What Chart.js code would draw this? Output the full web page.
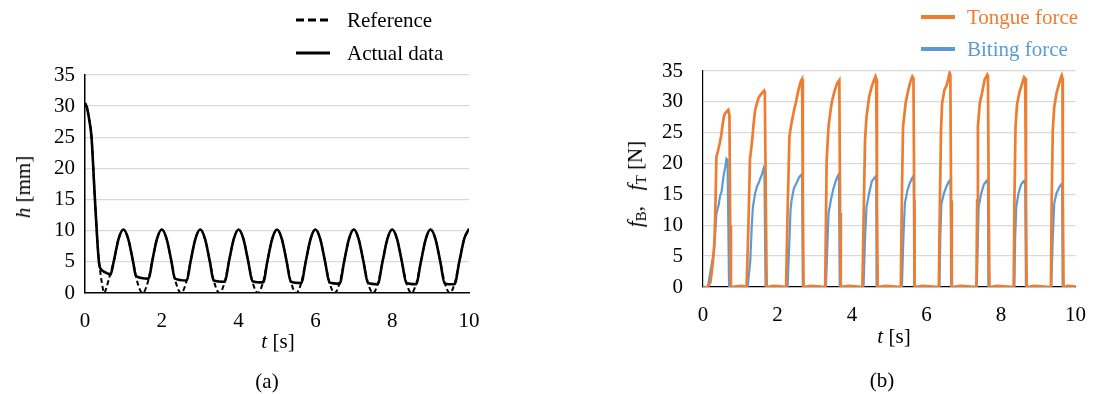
<!DOCTYPE html>
<html><head><meta charset="utf-8">
<script src="https://cdn.jsdelivr.net/npm/chart.js@4.4.1/dist/chart.umd.min.js"></script>
<style>
html,body{margin:0;padding:0;background:#fff;width:1102px;height:394px;overflow:hidden;}
body{position:relative;font-family:"Liberation Serif","Times New Roman",serif;color:#000;}
canvas{position:absolute;top:0;}
.t{position:absolute;font-size:21px;line-height:24px;white-space:nowrap;}
.c{transform:translate(-50%,-50%);}
.r{transform:translate(-50%,-50%) rotate(-90deg);}
sub{font-size:15px;vertical-align:-4px;font-style:normal;}
</style></head><body>
<canvas id="ca" width="551" height="394" style="left:0"></canvas>
<canvas id="cb" width="551" height="394" style="left:551px"></canvas>

<!-- panel (a) texts -->
<svg style="position:absolute;left:296px;top:18px" width="34" height="4"><line x1="0" y1="2" x2="34" y2="2" stroke="#000" stroke-width="3" stroke-dasharray="8 4"/></svg>
<div class="t" style="left:347px;top:8px">Reference</div>
<svg style="position:absolute;left:296px;top:51px" width="34" height="4"><line x1="0" y1="2" x2="34" y2="2" stroke="#000" stroke-width="3"/></svg>
<div class="t" style="left:347px;top:41px">Actual data</div>
<div class="t r" style="left:23px;top:187px"><i>h</i> [mm]</div>
<div class="t c" style="left:278px;top:341px"><i>t</i> [s]</div>
<div class="t c" style="left:267px;top:381px">(a)</div>

<!-- panel (b) texts -->
<svg style="position:absolute;left:921px;top:15px" width="34" height="4"><line x1="0" y1="2" x2="34" y2="2" stroke="#ED7D31" stroke-width="4"/></svg>
<div class="t" style="left:967px;top:5px;color:#ED7D31">Tongue force</div>
<svg style="position:absolute;left:921px;top:47px" width="34" height="4"><line x1="0" y1="2" x2="34" y2="2" stroke="#5B9BD5" stroke-width="4"/></svg>
<div class="t" style="left:967px;top:37px;color:#5B9BD5">Biting force</div>
<div class="t r" style="left:638px;top:184px"><i>f</i><sub>B</sub>,&nbsp;&nbsp; <i>f</i><sub>T</sub> [N]</div>
<div class="t c" style="left:894px;top:336px"><i>t</i> [s]</div>
<div class="t c" style="left:882px;top:380px">(b)</div>

<script>
// ---------- Panel (a): gap height h [mm] ----------
const tRef = [0,0.05,0.1,0.17,0.25,0.33,0.38,0.44,0.5,0.57,0.65,0.75,0.875,
 1,1.125,1.25,1.375,1.5,1.625,1.75,1.875,
 2,2.125,2.25,2.375,2.5,2.625,2.75,2.875,
 3,3.125,3.25,3.375,3.5,3.625,3.75,3.875,
 4,4.125,4.25,4.375,4.5,4.625,4.75,4.875,
 5,5.125,5.25,5.375,5.5,5.625,5.75,5.875,
 6,6.125,6.25,6.375,6.5,6.625,6.75,6.875,
 7,7.125,7.25,7.375,7.5,7.625,7.75,7.875,
 8,8.125,8.25,8.375,8.5,8.625,8.75,8.875,
 9,9.125,9.25,9.375,9.5,9.625,9.75,9.875,10];
const hRef = [30.5,29.8,28.2,25.0,16.0,7.5,4.3,1.6,0,1.1,2.9,5.1,8.7,
 10.2,8.7,5.1,1.5,0,1.5,5.1,8.7,
 10.2,8.7,5.1,1.5,0,1.5,5.1,8.7,
 10.2,8.7,5.1,1.5,0,1.5,5.1,8.7,
 10.2,8.7,5.1,1.5,0,1.5,5.1,8.7,
 10.2,8.7,5.1,1.5,0,1.5,5.1,8.7,
 10.2,8.7,5.1,1.5,0,1.5,5.1,8.7,
 10.2,8.7,5.1,1.5,0,1.5,5.1,8.7,
 10.2,8.7,5.1,1.5,0,1.5,5.1,8.7,
 10.2,8.7,5.1,1.5,0,1.5,5.1,8.7,10.3];

const tAct = [0,0.05,0.1,0.17,0.25,0.33,0.37,0.42,0.5,0.6,0.66,0.75,0.875,
 1,1.125,1.25,1.33,1.66,1.75,1.875,
 2,2.125,2.25,2.34,2.65,2.75,2.875,
 3,3.125,3.25,3.35,3.64,3.75,3.875,
 4,4.125,4.25,4.36,4.64,4.75,4.875,
 5,5.125,5.25,5.36,5.63,5.75,5.875,
 6,6.125,6.25,6.37,6.63,6.75,6.875,
 7,7.125,7.25,7.37,7.62,7.75,7.875,
 8,8.125,8.25,8.37,8.62,8.75,8.875,
 9,9.125,9.25,9.37,9.62,9.75,9.875,10];
const hAct = [30.5,29.8,28.2,25.0,16.0,7.5,4.6,3.8,3.4,3.1,2.9,5.1,8.7,
 10.2,8.7,5.1,2.7,2.3,5.1,8.7,
 10.2,8.7,5.1,2.3,2.0,5.1,8.7,
 10.2,8.7,5.1,2.0,1.8,5.1,8.7,
 10.2,8.7,5.1,1.9,1.7,5.1,8.7,
 10.2,8.7,5.1,1.8,1.6,5.1,8.7,
 10.2,8.7,5.1,1.7,1.5,5.1,8.7,
 10.2,8.7,5.1,1.6,1.4,5.1,8.7,
 10.2,8.7,5.1,1.6,1.4,5.1,8.7,
 10.2,8.7,5.1,1.5,1.4,5.1,8.7,10.3];

// ---------- Panel (b): forces [N] ----------
const tTongue = [0,0.13,0.2,0.23,0.27,0.31,0.34,0.36,0.40,0.45,0.49,0.53,0.56,0.59,0.63,0.68,0.71,0.73,0.75,
 0.9,1.05,1.17,1.22,1.26,1.32,1.36,1.40,1.45,1.49,1.54,1.58,1.64,1.66,1.69,1.71,
 1.9,2.1,2.23,2.27,2.32,2.36,2.41,2.45,2.49,2.53,2.56,2.60,2.63,2.66,2.68,2.70,
 2.9,3.1,3.28,3.32,3.37,3.42,3.46,3.50,3.54,3.60,3.66,3.68,3.70,
 3.9,4.1,4.28,4.32,4.35,4.39,4.46,4.53,4.59,4.63,4.65,4.67,4.69,
 4.9,5.1,5.31,5.34,5.37,5.44,5.51,5.57,5.62,5.65,5.67,5.68,
 5.9,6.1,6.33,6.36,6.39,6.42,6.48,6.54,6.58,6.62,6.64,6.66,6.68,
 6.9,7.1,7.34,7.36,7.38,7.43,7.49,7.56,7.63,7.65,7.67,7.69,
 7.9,8.1,8.34,8.36,8.39,8.43,8.50,8.57,8.62,8.65,8.67,8.69,
 8.9,9.1,9.34,9.36,9.39,9.43,9.49,9.56,9.61,9.63,9.65,9.66,9.68,
 9.8,10];
const fTongue = [0,0,0.8,2.2,4.3,7.6,15,21.1,22.0,23.3,24.6,26.5,27.6,28.1,28.4,28.7,27.8,10,0,
 0.1,0.2,0,10,20.6,23.8,26.5,28.7,29.8,30.6,31.1,31.4,31.8,31.3,12,0,
 0.2,0.1,0,12,24.4,26.0,27.6,28.8,29.8,31.0,31.9,32.8,33.4,33.7,15,0,
 0.2,0.1,0,20.6,26.0,28.4,30.0,31.0,31.9,33.0,33.5,12,0,
 0.2,0.1,0,14,23.8,27.6,30.8,32.5,33.5,34.1,33.7,14,0,
 0.2,0.1,0,15,26.0,29.8,31.9,33.3,34.1,33.8,14,0,
 0.2,0.1,0,14,25.5,29.8,31.9,32.7,33.6,34.7,34.4,14,0,
 0.2,0.1,0,14,26.0,29.8,31.4,33.6,34.4,34.1,14,0,
 0.2,0.1,0,14,26.0,29.6,31.7,33.0,34.0,33.8,14,0,
 0.2,0.1,0,14,25.4,29.2,31.4,33.0,34.0,34.3,33.8,14,0,
 0.2,0.1];

const tBite = [0,0.13,0.2,0.25,0.29,0.33,0.36,0.38,0.42,0.46,0.50,0.53,0.56,0.60,0.63,0.66,0.68,0.70,
 1.20,1.27,1.31,1.34,1.40,1.45,1.49,1.54,1.58,1.63,1.65,1.67,1.68,
 2.27,2.31,2.35,2.38,2.44,2.49,2.53,2.59,2.64,2.66,2.68,
 3.30,3.34,3.37,3.43,3.50,3.57,3.63,3.65,3.67,
 4.31,4.35,4.39,4.46,4.53,4.59,4.63,4.65,4.66,
 5.34,5.38,5.42,5.49,5.55,5.61,5.64,5.66,5.67,
 6.35,6.37,6.40,6.47,6.53,6.60,6.63,6.65,6.66,
 7.35,7.38,7.40,7.47,7.54,7.60,7.63,7.65,7.66,
 8.36,8.38,8.41,8.47,8.54,8.60,8.63,8.65,8.67,
 9.35,9.39,9.43,9.49,9.55,9.61,9.64,9.65,9.66,10];
const fBite = [0,0,2.5,4.3,5.5,9,11.9,12.4,13.3,14.8,15.5,17.0,18.3,19.5,20.8,20.6,10,0,
 0,4.3,10,13.0,15.2,16.3,16.8,17.6,18.2,19.3,19.0,5,0,
 0,6,12.5,14.1,16.0,16.6,17.1,17.9,18.2,17.5,0,
 0,7,11.9,14.0,15.9,17.3,18.1,17.6,0,
 0,8,13.0,15.2,17.1,17.6,17.9,17.2,0,
 0,8,13.6,15.7,16.8,17.6,17.9,17.0,0,
 0,8,13.5,15.2,16.2,17.1,17.3,16.5,0,
 0,8,13.0,15.2,16.6,17.1,17.3,16.5,0,
 0,8,13.0,15.2,16.6,17.1,17.2,16.4,0,
 0,8,13.6,15.2,16.0,16.6,16.8,16.0,0,0];

const xTicksStep = 2, yTicksStep = 5, xMax = 10, yMax = 35;

const pts = (ts, vs) => ts.map((t, i) => ({x: t, y: vs[i]}));
const tickFont = {family: '"Liberation Serif","Times New Roman",serif', size: 21};

function makeChart(id, datasets, pad, yPad, axisW) {
  return new Chart(document.getElementById(id), {
    type: 'line',
    data: {datasets},
    options: {
      responsive: false, animation: false, devicePixelRatio: 1,
      layout: {padding: pad},
      plugins: {legend: {display: false}, tooltip: {enabled: false}},
      elements: {point: {radius: 0}},
      scales: {
        x: {type: 'linear', min: 0, max: xMax,
            ticks: {stepSize: xTicksStep, font: tickFont, color: '#000', padding: 16, maxRotation: 0},
            grid: {display: false, drawTicks: false},
            border: {display: true, color: '#000', width: axisW},
            afterFit: s => { s.height = 40; }},
        y: {min: 0, max: yMax,
            ticks: {stepSize: yTicksStep, font: tickFont, color: '#000', padding: yPad},
            grid: {drawTicks: false, lineWidth: 1.3,
                   color: c => (c.tick && c.tick.value === 0) ? 'rgba(0,0,0,0)' : '#d9d9d9'},
            border: {display: true, color: '#000', width: axisW},
            afterFit: s => { s.width = 50; }}
      }
    }
  });
}

makeChart('ca', [
  {data: pts(tAct, hAct), borderColor: '#000', borderWidth: 2.6, cubicInterpolationMode: 'monotone', fill: false},
  {data: pts(tRef, hRef), borderColor: '#000', borderWidth: 2, borderDash: [5, 3], cubicInterpolationMode: 'monotone', fill: false}
], {left: 35, top: 75, right: 82, bottom: 61}, 10, 1.5);

makeChart('cb', [
  {data: pts(tTongue, fTongue), borderColor: '#ED7D31', borderWidth: 2.7, tension: 0, fill: false},
  {data: pts(tBite, fBite), borderColor: '#5B9BD5', borderWidth: 2.2, tension: 0, fill: false}
], {left: 102, top: 71, right: 17, bottom: 67}, 20, 1.2);
</script>
</body></html>
